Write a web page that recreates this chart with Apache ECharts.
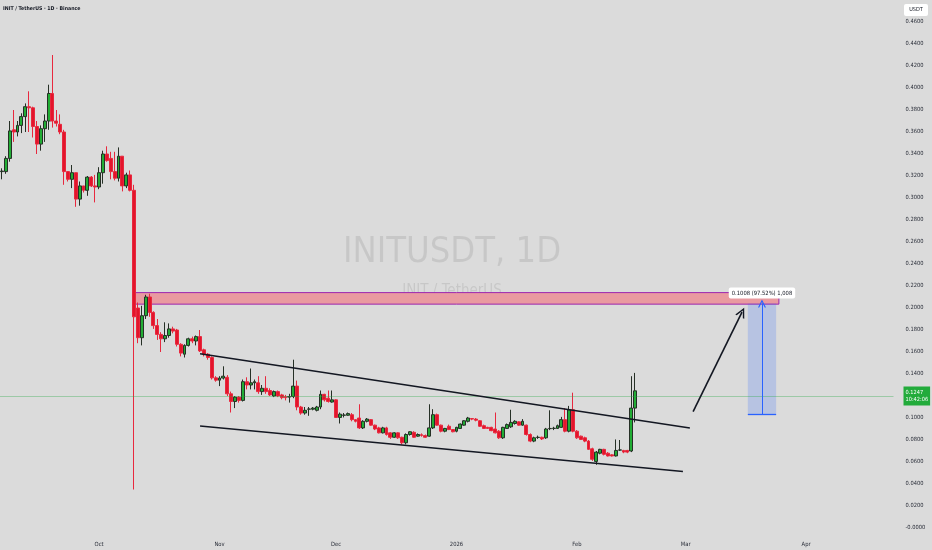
<!DOCTYPE html>
<html>
<head>
<meta charset="utf-8">
<script src="https://cdn.jsdelivr.net/npm/echarts@6/dist/echarts.min.js"></script>
<style>
html,body{margin:0;padding:0;background:#dbdbdb;}
#chart{width:932px;height:550px;}
</style>
</head>
<body>
<div id="chart"></div>
<script>
// ---------- DATA ----------
const startDate = '2025-09-06';
const dayCount = 230;

// [open, close, low, high] per day starting at startDate
const ohlc = [
  [0.324,0.3245,0.317,0.327],[0.324,0.336,0.322,0.338],[0.336,0.361,0.333,0.370],[0.362,0.360,0.351,0.380],
  [0.360,0.366,0.356,0.370],[0.366,0.374,0.359,0.377],[0.374,0.383,0.360,0.386],[0.383,0.382,0.360,0.397],
  [0.382,0.365,0.355,0.383],[0.365,0.349,0.340,0.370],[0.349,0.363,0.343,0.366],[0.363,0.370,0.351,0.376],
  [0.370,0.395,0.362,0.403],[0.395,0.370,0.364,0.430],[0.370,0.368,0.365,0.380],[0.367,0.360,0.358,0.376],
  [0.360,0.324,0.312,0.362],[0.324,0.317,0.315,0.324],[0.317,0.323,0.309,0.330],[0.323,0.299,0.292,0.323],
  [0.299,0.311,0.293,0.315],[0.311,0.307,0.305,0.311],[0.307,0.319,0.302,0.320],[0.319,0.311,0.310,0.320],
  [0.311,0.310,0.296,0.321],[0.310,0.323,0.308,0.328],[0.323,0.340,0.313,0.343],[0.340,0.334,0.333,0.347],
  [0.336,0.324,0.317,0.342],[0.324,0.318,0.316,0.342],[0.318,0.338,0.315,0.346],[0.338,0.311,0.306,0.338],
  [0.311,0.321,0.309,0.323],[0.321,0.307,0.306,0.325],
  // Oct 10
  [0.307,0.192,0.035,0.312],
  [0.200,0.173,0.168,0.205],[0.173,0.193,0.166,0.202],[0.193,0.210,0.190,0.212],[0.210,0.196,0.192,0.213],
  [0.196,0.184,0.181,0.197],[0.184,0.176,0.171,0.190],[0.176,0.172,0.160,0.178],[0.172,0.175,0.169,0.187],
  [0.175,0.181,0.173,0.186],[0.181,0.179,0.177,0.183],[0.180,0.167,0.165,0.181],[0.167,0.159,0.156,0.168],
  [0.158,0.166,0.155,0.167],[0.166,0.172,0.165,0.173],[0.172,0.170,0.168,0.174],[0.170,0.174,0.166,0.175],
  [0.174,0.161,0.160,0.180],[0.162,0.158,0.156,0.163],[0.158,0.155,0.153,0.159],[0.155,0.1365,0.135,0.156],
  [0.1365,0.1344,0.133,0.138],[0.1344,0.1363,0.129,0.138],[0.1363,0.138,0.135,0.147],[0.137,0.122,0.120,0.139],
  [0.122,0.115,0.105,0.124],[0.115,0.119,0.109,0.120],[0.119,0.116,0.114,0.120],[0.116,0.133,0.115,0.135],
  [0.133,0.130,0.126,0.137],[0.130,0.132,0.126,0.145],[0.132,0.133,0.126,0.135],[0.132,0.124,0.122,0.138],
  [0.124,0.127,0.121,0.130],[0.127,0.124,0.122,0.138],[0.125,0.121,0.120,0.127],[0.120,0.124,0.119,0.125],
  [0.124,0.120,0.119,0.125],[0.121,0.1185,0.117,0.122],[0.1195,0.1185,0.116,0.121],[0.119,0.1195,0.114,0.122],
  [0.1195,0.129,0.118,0.153],
  [0.129,0.110,0.107,0.134],[0.110,0.1045,0.103,0.111],[0.1045,0.107,0.103,0.110],[0.108,0.1082,0.102,0.110],
  [0.108,0.109,0.107,0.110],[0.107,0.110,0.106,0.111],[0.110,0.1215,0.108,0.125],[0.1215,0.1165,0.115,0.122],
  [0.118,0.115,0.114,0.125],[0.1145,0.1165,0.114,0.125],[0.1165,0.1005,0.100,0.117],[0.1005,0.1035,0.095,0.105],
  [0.1025,0.1027,0.1005,0.1045],[0.1025,0.104,0.102,0.105],[0.103,0.0985,0.097,0.1045],[0.0985,0.097,0.096,0.099],
  [0.100,0.091,0.090,0.1125],[0.091,0.097,0.090,0.098],[0.097,0.099,0.096,0.100],[0.0985,0.0935,0.093,0.099],
  [0.0935,0.090,0.089,0.094],[0.091,0.0865,0.086,0.092],[0.0865,0.091,0.086,0.092],[0.091,0.085,0.084,0.092],
  [0.0865,0.0825,0.081,0.087],[0.0825,0.0865,0.082,0.087],[0.0865,0.082,0.081,0.087],[0.0825,0.0775,0.076,0.083],
  [0.0775,0.085,0.076,0.086],[0.085,0.0875,0.084,0.088],[0.087,0.0825,0.082,0.088],[0.0835,0.085,0.083,0.086],
  [0.0848,0.0842,0.083,0.086],[0.084,0.0825,0.082,0.085],[0.0835,0.091,0.083,0.1125],[0.091,0.103,0.090,0.108],
  [0.103,0.0935,0.093,0.104],[0.0935,0.088,0.087,0.094],[0.088,0.0905,0.087,0.091],[0.0925,0.0895,0.089,0.094],
  [0.0895,0.0875,0.087,0.090],[0.088,0.0915,0.087,0.092],[0.0905,0.0945,0.090,0.095],[0.0935,0.0975,0.093,0.098],
  [0.097,0.100,0.096,0.101],[0.0995,0.099,0.098,0.100],[0.099,0.098,0.097,0.100],[0.0975,0.0925,0.092,0.098],
  [0.093,0.0905,0.090,0.094],[0.0915,0.0905,0.090,0.092],[0.0915,0.0885,0.088,0.092],[0.090,0.0865,0.086,0.105],
  [0.088,0.082,0.081,0.089],[0.082,0.0915,0.081,0.092],[0.0905,0.094,0.090,0.095],[0.092,0.096,0.091,0.1075],
  [0.095,0.097,0.094,0.098],[0.0965,0.0935,0.093,0.097],[0.0935,0.097,0.093,0.099],[0.0935,0.085,0.084,0.094],
  [0.085,0.079,0.078,0.086],[0.079,0.082,0.078,0.083],[0.0823,0.0825,0.081,0.084],[0.0825,0.081,0.080,0.083],
  [0.082,0.090,0.081,0.091],[0.0903,0.0905,0.089,0.107],[0.0905,0.0907,0.089,0.092],[0.0905,0.093,0.090,0.094],
  [0.0915,0.0985,0.091,0.101],[0.0985,0.088,0.087,0.109],[0.088,0.1075,0.087,0.111],[0.1075,0.088,0.087,0.123],
  [0.088,0.082,0.081,0.089],[0.0835,0.0805,0.080,0.084],[0.082,0.079,0.078,0.083],[0.079,0.0715,0.071,0.080],
  [0.072,0.0625,0.061,0.073],[0.0605,0.069,0.0575,0.070],[0.068,0.0715,0.067,0.072],[0.0715,0.067,0.066,0.072],
  [0.068,0.0655,0.065,0.069],[0.0665,0.0655,0.065,0.067],[0.0655,0.0705,0.065,0.0805],[0.0708,0.071,0.070,0.080],
  [0.0705,0.069,0.068,0.071],[0.0705,0.069,0.068,0.071],[0.070,0.109,0.069,0.138],[0.109,0.1247,0.096,0.141]
];

const currentPrice = 0.1247;
const countdown = '10:42:06';

const monthTicks = ['2025-10-01','2025-11-01','2025-12-01','2026-01-01','2026-02-01','2026-03-01','2026-04-01'];
const monthTickLabels = ['Oct','Nov','Dec','2026','Feb','Mar','Apr'];

// drawings: [date, price]
const resistanceZone = [['2025-10-10', 0.2140], ['2026-03-25', 0.2035]];
const channelUpper = [['2025-10-27', 0.1584], ['2026-03-02T02:00', 0.0909]];
const channelLower = [['2025-10-27', 0.0927], ['2026-02-28T07:00', 0.0513]];
const arrowPath = [['2026-03-02T22:00', 0.1058], ['2026-03-15T12:00', 0.1962]];
const projectionDates = ['2026-03-17', '2026-03-24T07:00'];
const projectionPrices = [0.10336, 0.20416];

// ---------- BUILD ----------
const FONT = "'Liberation Sans Narrow','DejaVu Sans Condensed','Liberation Sans',sans-serif";
const startMs = Date.parse(startDate + 'T00:00:00Z');
function dayIdx(s) {
  const t = Date.parse(s.length === 10 ? s + 'T00:00:00Z' : s + ':00Z');
  return (t - startMs) / 86400000;
}
const dates = [];
for (let i = 0; i < dayCount; i++) {
  dates.push(new Date(startMs + i * 86400000).toISOString().slice(0, 10));
}
const pt = (p) => [dayIdx(p[0]), p[1]];
const chevron = 'path://M0,10 L5,0 L10,10 L8.4,10 L5,3.2 L1.6,10 Z';

const projMid = (dayIdx(projectionDates[0]) + dayIdx(projectionDates[1])) / 2;
const projDiff = projectionPrices[1] - projectionPrices[0];
const projLabel = projDiff.toFixed(4) + ' (' + (projDiff / projectionPrices[0] * 100).toFixed(2) + '%) ' +
  Math.round(projDiff * 10000).toLocaleString('en-US');

const chart = echarts.init(document.getElementById('chart'), null, {renderer: 'canvas'});
chart.setOption({
  backgroundColor: '#dbdbdb',
  animation: false,
  textStyle: {fontFamily: FONT},
  title: {
    text: 'INIT / TetherUS · 1D · Binance',
    left: 3, top: 6, padding: 0,
    textStyle: {fontSize: 5.2, fontWeight: 'bold', color: '#131722', fontFamily: FONT}
  },
  graphic: [
    {type: 'text', z: -10, x: 452, y: 253, silent: true,
     style: {text: 'INITUSDT, 1D', textAlign: 'center', textVerticalAlign: 'middle',
             font: '36px ' + FONT, fill: 'rgba(0,0,0,0.09)'}},
    {type: 'text', z: -10, x: 452, y: 291, silent: true,
     style: {text: 'INIT / TetherUS', textAlign: 'center', textVerticalAlign: 'middle',
             font: '15px ' + FONT, fill: 'rgba(0,0,0,0.09)'}},
    {type: 'group', left: 904, top: 4, children: [
      {type: 'rect', shape: {x: 0, y: 0, width: 24, height: 12, r: 2}, style: {fill: '#ffffff'}},
      {type: 'text', style: {text: 'USDT', x: 12, y: 6, textAlign: 'center', textVerticalAlign: 'middle',
        font: '5.5px ' + FONT, fill: '#131722'}}
    ]}
  ],
  grid: {left: 0, top: -1, width: 893.5, height: 554, containLabel: false},
  xAxis: [
    {type: 'category', data: dates, boundaryGap: true,
     axisLine: {show: false}, axisTick: {show: false}, splitLine: {show: false},
     axisLabel: {inside: true, margin: 3, fontSize: 5.8, color: '#2a2e39', fontFamily: FONT,
       interval: (i, v) => monthTicks.indexOf(v) >= 0,
       formatter: (v) => { const k = monthTicks.indexOf(v); return k >= 0 ? monthTickLabels[k] : ''; }}},
    {type: 'value', min: -0.5, max: dayCount - 0.5, show: false}
  ],
  yAxis: {
    type: 'value', position: 'right', min: -0.02, max: 0.48, interval: 0.02, scale: false,
    axisLine: {show: false}, axisTick: {show: false}, splitLine: {show: false},
    axisLabel: {margin: 12, fontSize: 5.7, color: '#2a2e39', fontFamily: FONT,
      showMinLabel: false, showMaxLabel: false,
      formatter: (v) => (Math.abs(v) < 1e-9 ? '-0.0000' : v.toFixed(4))}
  },
  series: [
    {
      type: 'line', xAxisIndex: 1, data: [], z: 1, silent: true,
      markArea: {
        silent: true,
        data: [
          [{coord: pt(resistanceZone[0]), itemStyle: {color: '#e99aa0', borderColor: '#9c27b0', borderWidth: 1}},
           {coord: pt(resistanceZone[1])}],
          [{coord: [dayIdx(projectionDates[0]), projectionPrices[1]],
            itemStyle: {color: 'rgba(41,98,255,0.2)', borderWidth: 0},
            label: {show: true, position: 'top', distance: 5, formatter: projLabel,
              backgroundColor: '#ffffff', color: '#131722', fontSize: 5.8, padding: [3, 3, 2, 3], borderRadius: 2,
              fontFamily: FONT}},
           {coord: [dayIdx(projectionDates[1]), projectionPrices[0]]}]
        ]
      }
    },
    {
      type: 'candlestick', data: ohlc, z: 3, barWidth: 3.4,
      itemStyle: {color: '#22ad35', color0: '#e3152b', borderColor: '#263026', borderColor0: '#e8283e', borderWidth: 1},
      markLine: {
        silent: true, symbol: ['none', 'none'],
        lineStyle: {color: 'rgba(40,170,70,0.35)', width: 1, type: 'solid'},
        data: [{yAxis: currentPrice}],
        label: {show: true, position: 'end', distance: 10, formatter: currentPrice.toFixed(4) + '\n' + countdown,
          backgroundColor: '#22ab3b', color: '#ffffff', fontSize: 5.6, lineHeight: 7.5, padding: [2, 2, 2, 2],
          fontFamily: FONT}
      }
    },
    {
      type: 'line', xAxisIndex: 1, data: [], z: 5, silent: true,
      markLine: {
        silent: true, symbol: ['none', 'none'], label: {show: false},
        lineStyle: {color: '#131722', width: 1.6, type: 'solid'},
        data: [
          [{coord: pt(channelUpper[0])}, {coord: pt(channelUpper[1])}],
          [{coord: pt(channelLower[0])}, {coord: pt(channelLower[1])}],
          [{coord: pt(arrowPath[0])}, {coord: pt(arrowPath[1]), symbol: chevron, symbolSize: 10}],
          [{coord: [projMid, projectionPrices[0]], lineStyle: {color: '#2962ff', width: 1}},
           {coord: [projMid, projectionPrices[1]], symbol: chevron, symbolSize: 8}],
          [{coord: [dayIdx(projectionDates[0]), projectionPrices[0]], lineStyle: {color: '#2962ff', width: 1.3}},
           {coord: [dayIdx(projectionDates[1]), projectionPrices[0]]}]
        ]
      }
    }
  ]
});
</script>
</body>
</html>
